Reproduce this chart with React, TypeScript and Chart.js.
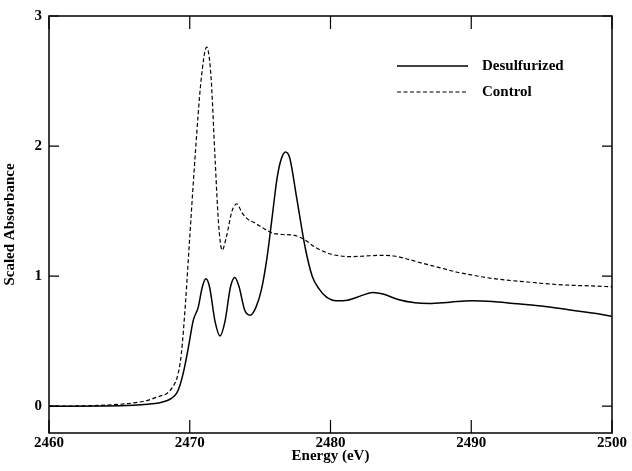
import React, { useEffect, useRef } from "react";
import { Chart, registerables } from "chart.js";

Chart.register(...registerables);

const xTicks = [2460, 2470, 2480, 2490, 2500];
const yTicks = [0, 1, 2, 3];

const desulfEnergy = [
  2460, 2464, 2466, 2467, 2467.8, 2468.3, 2468.7, 2469.07, 2469.3, 2469.55, 2469.9,
  2470.25, 2470.6, 2470.9, 2471.15, 2471.4, 2471.8, 2472.15, 2472.5, 2472.9, 2473.2,
  2473.5, 2473.9, 2474.3, 2474.7, 2475.1, 2475.5, 2475.85, 2476.2, 2476.5, 2476.8,
  2477.1, 2477.6, 2478.2, 2478.7, 2479.2, 2479.7, 2480.4, 2481.2, 2482.2, 2483,
  2483.8, 2484.8, 2486, 2487, 2488.5, 2490, 2491.5, 2493, 2495, 2497, 2499, 2500,
];
const desulfValues = [
  0, 0.002, 0.008, 0.015, 0.025, 0.04, 0.06, 0.1, 0.16, 0.26, 0.45,
  0.66, 0.76, 0.92, 0.98, 0.92, 0.65, 0.54, 0.65, 0.92, 0.99,
  0.92, 0.74, 0.7, 0.76, 0.9, 1.15, 1.45, 1.75, 1.9, 1.955,
  1.91, 1.6, 1.22, 1.0, 0.9, 0.84, 0.81, 0.815, 0.85, 0.875,
  0.86, 0.82, 0.795, 0.79, 0.8, 0.81, 0.805, 0.79, 0.77, 0.74, 0.71, 0.69,
];

const controlEnergy = [
  2460, 2462, 2464, 2466, 2467, 2467.8, 2468.4, 2468.8, 2469.1, 2469.4, 2469.7,
  2470.0, 2470.4, 2470.8, 2471.2, 2471.5, 2471.8, 2472.05, 2472.3, 2472.6, 2473.0,
  2473.35, 2473.7, 2474.1, 2474.6, 2475.2, 2475.9, 2476.6, 2477.3, 2477.8, 2478.3,
  2478.8, 2479.3, 2480, 2480.7, 2481.5, 2482.5, 2483.5, 2484.5, 2485.5, 2486.5,
  2487.8, 2489, 2490, 2491, 2492.5, 2494, 2495.5, 2497, 2498.5, 2500,
];
const controlValues = [
  0, 0.002, 0.008, 0.025, 0.045, 0.075, 0.1, 0.15, 0.22, 0.4, 0.8,
  1.3, 1.95, 2.5, 2.76, 2.55, 1.9, 1.4, 1.2, 1.3, 1.5,
  1.555, 1.49, 1.44, 1.41, 1.37, 1.33, 1.32, 1.316, 1.3, 1.27,
  1.23, 1.2, 1.17, 1.155, 1.15, 1.155, 1.16, 1.155, 1.13, 1.1,
  1.064, 1.03, 1.01, 0.99, 0.97, 0.955, 0.94, 0.93, 0.925, 0.918,
];

const seriesLabels = ["Desulfurized", "Control"];

const FONT = "'Liberation Serif', 'Times New Roman', serif";
const FS = 15;

const framePlugin = {
  id: "frameTicks",
  afterDraw(chart: any) {
    const { ctx, chartArea, scales } = chart;
    const { left, right, top, bottom } = chartArea;
    ctx.save();
    ctx.strokeStyle = "#000";
    ctx.lineWidth = 1.5;
    ctx.strokeRect(left, top, right - left, bottom - top);
    ctx.lineWidth = 1.2;
    ctx.beginPath();
    xTicks.forEach((v) => {
      const px = scales.x.getPixelForValue(v);
      ctx.moveTo(px, bottom);
      ctx.lineTo(px, bottom - 13);
      ctx.moveTo(px, top);
      ctx.lineTo(px, top + 13);
    });
    yTicks.forEach((v) => {
      const py = scales.y.getPixelForValue(v);
      ctx.moveTo(left, py);
      ctx.lineTo(left + 10, py);
      ctx.moveTo(right, py);
      ctx.lineTo(right - 10, py);
    });
    ctx.stroke();

    // legend
    const ds = chart.data.datasets;
    ctx.font = `bold ${FS}px ${FONT}`;
    ctx.fillStyle = "#000";
    ctx.textBaseline = "middle";
    ctx.textAlign = "left";
    ds.forEach((d: any, i: number) => {
      const y = 66 + i * 26;
      ctx.beginPath();
      ctx.lineWidth = d.borderWidth;
      ctx.setLineDash(d.borderDash || []);
      ctx.moveTo(397, y);
      ctx.lineTo(468, y);
      ctx.stroke();
      ctx.setLineDash([]);
      ctx.fillText(d.label, 482, y);
    });
    ctx.restore();
  },
};

export default function App() {
  const ref = useRef<HTMLCanvasElement>(null);
  useEffect(() => {
    if (!ref.current) return;
    const mk = (xs: number[], ys: number[]) => xs.map((x, i) => ({ x, y: ys[i] }));
    const chart = new Chart(ref.current, {
      type: "line",
      data: {
        datasets: [
          {
            label: seriesLabels[0],
            data: mk(desulfEnergy, desulfValues),
            borderColor: "#000",
            borderWidth: 1.5,
            pointRadius: 0,
            cubicInterpolationMode: "monotone",
            fill: false,
          },
          {
            label: seriesLabels[1],
            data: mk(controlEnergy, controlValues),
            borderColor: "#000",
            borderWidth: 1.2,
            borderDash: [4, 2.5],
            pointRadius: 0,
            cubicInterpolationMode: "monotone",
            fill: false,
          },
        ],
      },
      options: {
        responsive: false,
        animation: false,
        layout: { padding: { left: 0, right: 20, top: 9, bottom: 0 } },
        plugins: { legend: { display: false }, tooltip: { enabled: false } },
        scales: {
          x: {
            type: "linear",
            min: 2460,
            max: 2500,
            grid: { display: false, drawTicks: false },
            border: { display: false },
            afterBuildTicks: (s: any) => {
              s.ticks = xTicks.map((v) => ({ value: v }));
            },
            afterFit: (s: any) => {
              s.height = 38;
            },
            ticks: {
              padding: 1,
              color: "#000",
              maxRotation: 0,
              font: { family: FONT, size: FS, weight: "bold" },
              callback: (v: any) => String(v),
            },
            title: {
              display: true,
              text: "Energy (eV)",
              color: "#000",
              padding: { top: 0, bottom: 6 },
              font: { family: FONT, size: FS, weight: "bold" },
            },
          },
          y: {
            type: "linear",
            min: -0.206,
            max: 3,
            grid: { display: false, drawTicks: false },
            border: { display: false },
            afterBuildTicks: (s: any) => {
              s.ticks = yTicks.map((v) => ({ value: v }));
            },
            afterFit: (s: any) => {
              s.width = 49;
            },
            ticks: {
              padding: 7,
              color: "#000",
              font: { family: FONT, size: FS, weight: "bold" },
              callback: (v: any) => String(v),
            },
            title: {
              display: true,
              text: "Scaled Absorbance",
              color: "#000",
              padding: { top: 1, bottom: 0 },
              font: { family: FONT, size: FS, weight: "bold" },
            },
          },
        },
      },
      plugins: [framePlugin],
    } as any);
    return () => chart.destroy();
  }, []);
  return (
    <div style={{ position: "fixed", left: 0, top: 0, width: 632, height: 471, background: "#fff" }}>
      <canvas ref={ref} width={632} height={471} style={{ display: "block", width: 632, height: 471 }} />
    </div>
  );
}
